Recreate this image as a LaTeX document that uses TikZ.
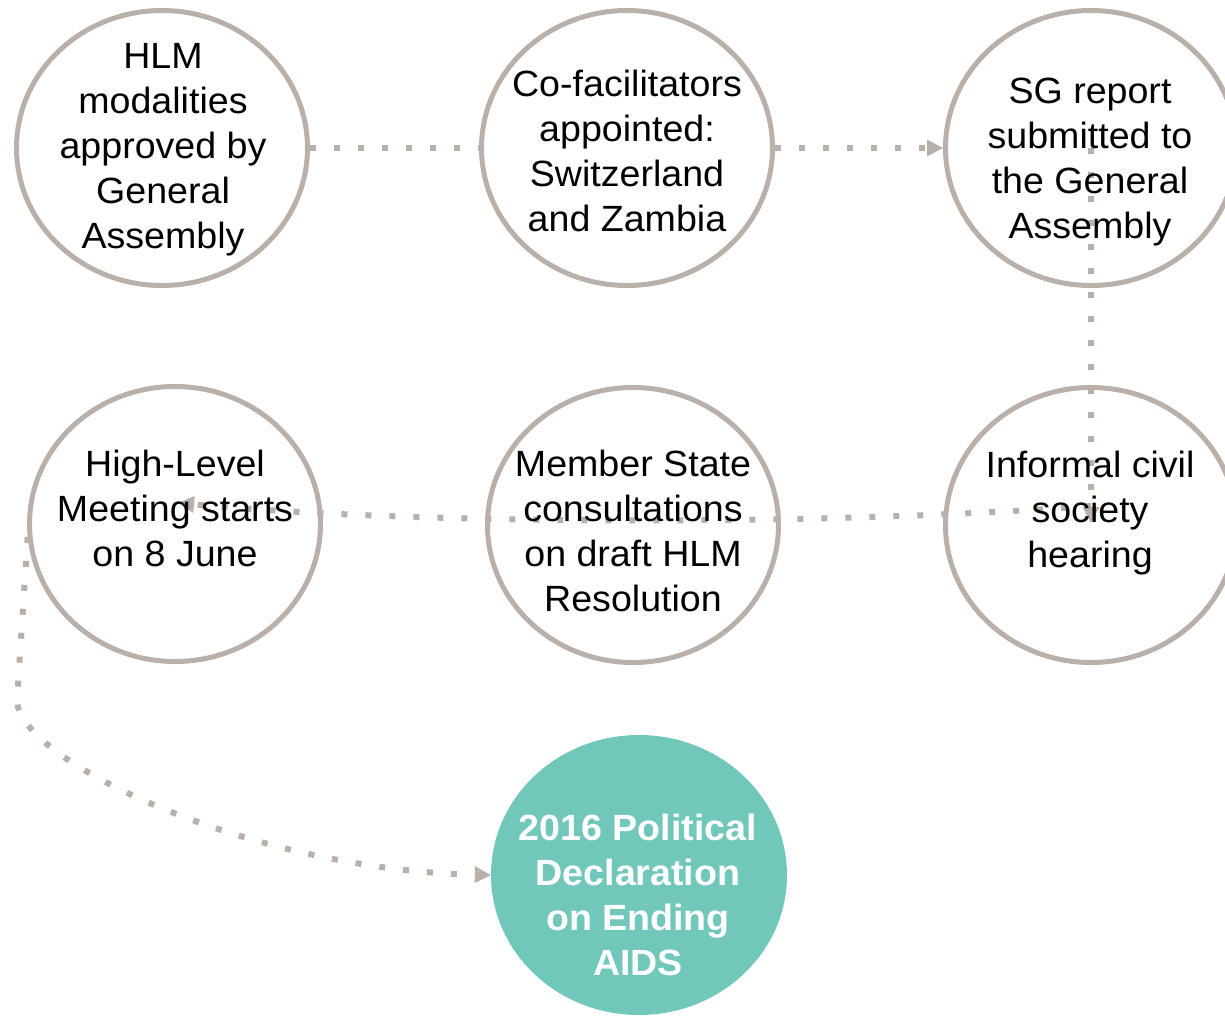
\documentclass[tikz,border=0pt]{standalone}
\usepackage{fontspec}
\setmainfont[FakeStretch=1.03]{Liberation Sans}
\usetikzlibrary{shapes.geometric,arrows.meta,calc}
\definecolor{ringgray}{RGB}{185,176,169}
\definecolor{teal7}{RGB}{112,199,186}
\begin{document}
\begin{tikzpicture}[x=1pt,y=-1pt,
  ring/.style={ellipse,draw=ringgray,line width=5pt,minimum width=291pt,minimum height=275pt,inner sep=0pt},
  goal/.style={ellipse,fill=teal7,minimum width=296pt,minimum height=280pt,inner sep=0pt},
  label/.style={align=center,inner sep=0pt,font=\fontsize{36.5}{45}\selectfont},
  goallabel/.style={label,text=white,font=\fontsize{36.5}{45}\selectfont\bfseries},
  flow/.style={draw=ringgray,line width=6pt,dash pattern=on 6pt off 18pt,line cap=butt},
  tip/.style={-{Triangle[length=16pt,width=17pt,line width=0pt]}}]
\useasboundingbox (0,0) rectangle (1225,1015);
% circles
\node[ring] (c1) at (162,148) {};
\node[ring] (c2) at (627,148) {};
\node[ring] (c3) at (1091,148) {};
\node[ring] (c4) at (175,524) {};
\node[ring] (c5) at (633,525) {};
\node[ring] (c6) at (1091,525) {};
\node[goal] (c7) at (639,875) {};
% connectors
\coordinate (bend) at (17,700);
\draw[flow] (c1.east) -- (c2.west);
\draw[flow,tip] (c2.east) -- (c3.west);
\draw[flow,tip] (c3.center) -- ($(c6.center)+(0,-2)$);
\draw[flow,tip] ($(c6.center)+(0,-19)$) .. controls (820,526) and (420,525) .. ($(c4.center)+(3,-21)$);
\draw[flow,tip] (c4.185) -- (bend) .. controls (17,760) and (250,870) .. (c7.west);
% texts
\node[label] (t1) at (163,150) {HLM\\modalities\\approved by\\General\\Assembly};
\node[label] (t2) at (627,151) {Co-facilitators\\appointed:\\Switzerland\\and Zambia};
\node[label] (t3) at (1090,162) {SG report\\submitted to\\the General\\Assembly};
\node[label] (t4) at (175,508) {High-Level\\Meeting starts\\on 8 June};
\node[label] (t5) at (633,531) {Member State\\consultations\\on draft HLM\\Resolution};
\node[label] (t6) at (1090,513) {Informal civil\\society\\hearing};
\node[goallabel] (t7) at (638,895) {2016 Political\\Declaration\\on Ending\\AIDS};
\end{tikzpicture}
\end{document}
